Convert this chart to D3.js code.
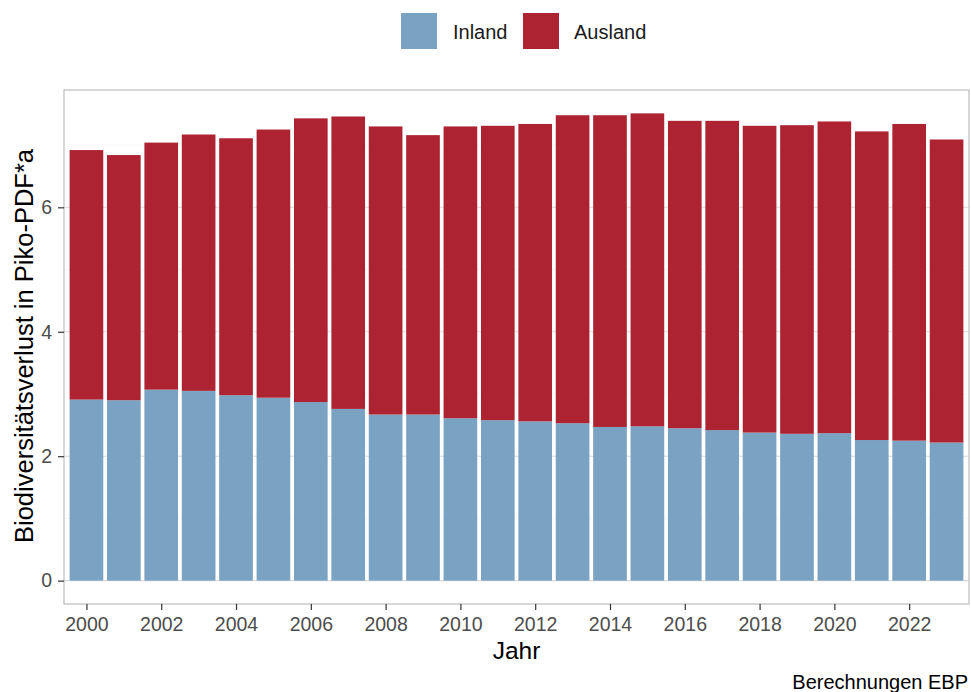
<!DOCTYPE html>
<html><head><meta charset="utf-8">
<script src="https://cdn.jsdelivr.net/npm/d3@7"></script>
<style>body{margin:0;background:#fff}svg{display:block;font-family:"Liberation Sans",Arial,sans-serif}</style>
</head><body><svg id="c" width="971" height="692"></svg>
<script>
const years = d3.range(2000, 2024);
const inland  = [2.91,2.90,3.07,3.05,2.98,2.94,2.87,2.76,2.67,2.67,2.61,2.58,2.56,2.53,2.47,2.48,2.45,2.42,2.38,2.36,2.37,2.26,2.25,2.22];
const ausland = [4.01,3.94,3.97,4.12,4.13,4.31,4.56,4.70,4.63,4.49,4.69,4.73,4.78,4.95,5.01,5.03,4.94,4.97,4.93,4.96,5.01,4.96,5.09,4.87];
const seriesNames = ["Inland","Ausland"];
const colors = ["#7aa2c2","#ae2332"];
const xTicks = [2000,2002,2004,2006,2008,2010,2012,2014,2016,2018,2020,2022];
const yTicks = [0,2,4,6];

const svg = d3.select("#c");
const L = 64, R = 969, T = 90, B = 604;
const data = years.map((y,i)=>({year:y, Inland:inland[i], Ausland:ausland[i]}));
const stack = d3.stack().keys(seriesNames)(data);
const maxV = d3.max(data, d=>d.Inland+d.Ausland);
const x = d3.scaleLinear().domain([1999.4, 2023.6]).range([L, R]);
const y = d3.scaleLinear().domain([-maxV*0.05, maxV*1.05]).range([B, T]);

// grid
svg.append("g").selectAll("line").data([1,3,5,7]).join("line")
  .attr("x1",L).attr("x2",R).attr("y1",d=>y(d)).attr("y2",d=>y(d))
  .attr("stroke","#f2f2f2").attr("stroke-width",0.6);
svg.append("g").selectAll("line").data(yTicks).join("line")
  .attr("x1",L).attr("x2",R).attr("y1",d=>y(d)).attr("y2",d=>y(d))
  .attr("stroke","#d9d9d9").attr("stroke-width",1.1);

const bw = x(2000.9)-x(2000);
svg.append("g").selectAll("g").data(stack).join("g")
  .attr("fill",(d,i)=>colors[i])
  .selectAll("rect").data(d=>d).join("rect")
  .attr("x",d=>x(d.data.year)-bw/2)
  .attr("width",bw)
  .attr("y",d=>y(d[1]))
  .attr("height",d=>y(d[0])-y(d[1]));

// panel border
svg.append("rect").attr("x",L).attr("y",T).attr("width",R-L).attr("height",B-T)
  .attr("fill","none").attr("stroke","#bdbdbd").attr("stroke-width",1.2);

// axes
const ya = svg.append("g").attr("transform",`translate(${L},0)`)
  .call(d3.axisLeft(y).tickValues(yTicks).tickSize(6).tickPadding(6).tickFormat(d3.format("d")));
const xa = svg.append("g").attr("transform",`translate(0,${B})`)
  .call(d3.axisBottom(x).tickValues(xTicks).tickSize(6).tickPadding(7).tickFormat(d3.format("d")));
[ya,xa].forEach(a=>{
  a.select(".domain").remove();
  a.selectAll(".tick line").attr("stroke","#333").attr("stroke-width",1.2);
  a.selectAll(".tick text").attr("fill","#4d4d4d").style("font-size","19.5px").style("font-family","'Liberation Sans',Arial,sans-serif");
});

// titles
svg.append("text").attr("x",(L+R)/2).attr("y",659).attr("text-anchor","middle")
  .style("font-size","24.5px").attr("fill","#000").text("Jahr");
svg.append("text").attr("transform",`translate(33,346) rotate(-90)`).attr("text-anchor","middle")
  .style("font-size","25.5px").attr("fill","#000").text("Biodiversitätsverlust in Piko-PDF*a");
svg.append("text").attr("x",968).attr("y",689).attr("text-anchor","end")
  .style("font-size","20px").attr("fill","#000").text("Berechnungen EBP");

// legend
const leg = [{n:"Inland",kx:401,tx:453},{n:"Ausland",kx:523,tx:574}];
leg.forEach((l,i)=>{
  svg.append("rect").attr("x",l.kx).attr("y",13).attr("width",36).attr("height",36).attr("fill",colors[i]);
  svg.append("text").attr("x",l.tx).attr("y",39).style("font-size","20px").attr("fill","#1a1a1a").text(l.n);
});
</script></body></html>
